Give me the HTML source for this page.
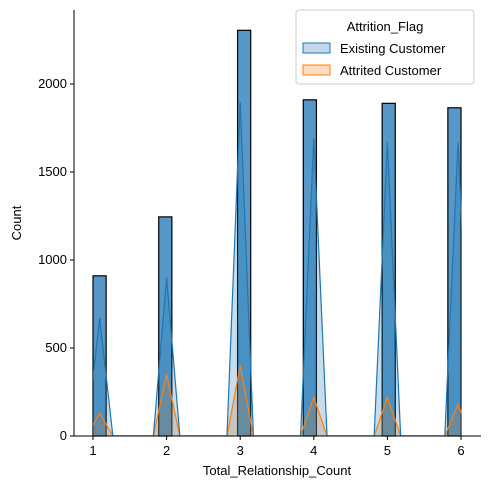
<!DOCTYPE html>
<html><head><meta charset="utf-8"><style>
body{margin:0;background:#fff;font-family:"Liberation Sans","DejaVu Sans",sans-serif}
</style></head><body>
<svg id="chart" width="489" height="489" xmlns="http://www.w3.org/2000/svg" font-family="Liberation Sans, DejaVu Sans, sans-serif">
<defs><clipPath id="clip"><rect x="93" y="0" width="368.5" height="436"/></clipPath></defs>
<g id="marks"></g>
<g id="axes"></g>
</svg>
<script>
const categories=[1,2,3,4,5,6];
const totalCounts=[910,1245,2305,1910,1890,1865];
const existingKde=[670,900,1900,1690,1670,1670];
const attritedKde=[130,350,400,220,220,180];
const yTicks=[0,500,1000,1500,2000];
const xTicks=[1,2,3,4,5,6];

const L=74,R=481,T=10,B=436;
const xs=v=>93+(v-1)*73.6;
const ys=v=>B-v*0.176;
const NS="http://www.w3.org/2000/svg";
const marks=document.getElementById('marks'),axes=document.getElementById('axes');
function mk(tag,attrs,parent){const e=document.createElementNS(NS,tag);for(const k in attrs)e.setAttribute(k,attrs[k]);parent.appendChild(e);return e;}

const bw=5/28;
categories.forEach((c,i)=>{
  let bin=Math.min(27,Math.floor((c-1)/bw+1e-9));
  const x0=1+bin*bw;
  const r=mk('rect',{x:xs(x0),y:ys(totalCounts[i]),width:xs(x0+bw)-xs(x0),height:B-ys(totalCounts[i]),fill:'#5798c8',stroke:'#000','stroke-width':1.2},marks);
  
  
});
function peakOf(c){return c===1?c+0.09:(c===6?c-0.04:c);}
function kdePath(vals){
  let d='M'+xs(0.8)+','+B;
  categories.forEach((c,i)=>{
    const p=peakOf(c);
    d+=' L'+xs(p-0.18)+','+B+' L'+xs(p)+','+ys(vals[i])+' L'+xs(p+0.18)+','+B;
  });
  d+=' L'+xs(6.3)+','+B;
  return d;
}
const kg=mk('g',{'clip-path':'url(#clip)'},marks);
const oa=mk('path',{d:kdePath(attritedKde)+' Z',fill:'#ff7f0e','fill-opacity':0.25,stroke:'none'},kg);


const ea=mk('path',{d:kdePath(existingKde)+' Z',fill:'#1f77b4','fill-opacity':0.25,stroke:'none'},kg);


const ol=mk('path',{d:kdePath(attritedKde),fill:'none',stroke:'#ff7f0e','stroke-width':1.2},kg);


const el=mk('path',{d:kdePath(existingKde),fill:'none',stroke:'#1f77b4','stroke-width':1.2},kg);



mk('line',{x1:L,y1:T,x2:L,y2:B,stroke:'#000','stroke-width':1},axes);
mk('line',{x1:L,y1:B,x2:R,y2:B,stroke:'#000','stroke-width':1},axes);
yTicks.forEach(t=>{
  mk('line',{x1:L-4,y1:ys(t),x2:L,y2:ys(t),stroke:'#000'},axes);
  const tx=mk('text',{x:L-7,y:ys(t)+4,'text-anchor':'end','font-size':13},axes);tx.textContent=t;
  
  
});
xTicks.forEach(t=>{
  mk('line',{x1:xs(t),y1:B,x2:xs(t),y2:B+4,stroke:'#000'},axes);
  const tx=mk('text',{x:xs(t),y:B+19,'text-anchor':'middle','font-size':13},axes);tx.textContent=t;
  
  
});
</script>
<svg style="position:absolute;left:0;top:0" width="489" height="489" xmlns="http://www.w3.org/2000/svg" font-family="Liberation Sans, DejaVu Sans, sans-serif">
<text x="277" y="475" text-anchor="middle" font-size="13">Total_Relationship_Count</text>
<text transform="translate(21,223) rotate(-90)" text-anchor="middle" font-size="13">Count</text>
<g>
<rect x="296" y="10" width="178" height="74" rx="3" fill="#fff" fill-opacity="0.85" stroke="#ccc"/>
<text x="385" y="31" text-anchor="middle" font-size="13">Attrition_Flag</text>
<rect x="303" y="43" width="27" height="10" fill="#c3d8ea" stroke="#1f77b4"/>
<text x="340" y="53" font-size="13">Existing Customer</text>
<rect x="303" y="65" width="27" height="10" fill="#ffdcc0" stroke="#ff7f0e"/>
<text x="340" y="75" font-size="13">Attrited Customer</text>
</g>
</svg>
</body></html>
